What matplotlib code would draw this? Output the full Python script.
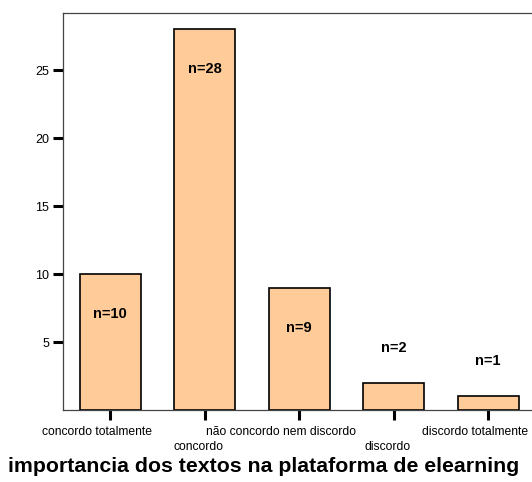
import matplotlib.pyplot as plt
import numpy as np

# data
categorias = ['concordo totalmente', 'concordo', 'não concordo nem discordo',
              'discordo', 'discordo totalmente']
contagens = [10, 28, 9, 2, 1]
yticks = [5, 10, 15, 20, 25]

plt.rcParams['font.family'] = ['Liberation Sans', 'DejaVu Sans']

W, H = 532, 482
fig = plt.figure(figsize=(W / 100, H / 100), dpi=100)
# axes box in pixels: left 63, top 13, bottom 410, pitch 94.5 px per bar
ax = fig.add_axes([63 / W, (H - 410) / H, 472.5 / W, (410 - 13) / H])

x = np.arange(len(categorias))
bars = ax.bar(x, contagens, width=0.645, color='#FFCC99',
              edgecolor='black', linewidth=1.2, zorder=2)

ax.set_xlim(-0.5, 4.5)
ax.set_ylim(0, 29.2)

# n= labels: inside tall bars, above short bars
for b, v in zip(bars, contagens):
    cx = b.get_x() + b.get_width() / 2
    off = -40 if v >= 5 else 35
    ax.annotate(f'n={v}', (cx, v), xytext=(0, off * 0.72),
                textcoords='offset points', ha='center', va='center',
                fontsize=10.5, fontweight='bold')

ax.set_yticks(yticks)
ax.set_yticklabels([str(t) for t in yticks], fontsize=9)
ax.set_xticks(x)
ax.set_xticklabels([])
# staggered category labels (spss puts them a bit left of the tick)
labs = []
for i, lab in enumerate(categorias):
    dy = -15.5 if i % 2 == 0 else -27
    t = ax.annotate(lab, (i, 0), xytext=(0, dy), textcoords='offset points',
                    ha='center', va='center', fontsize=8.7,
                    annotation_clip=False)
    labs.append(t)

fig.canvas.draw()
r = fig.canvas.get_renderer()
for t in labs:
    w = t.get_window_extent(r).width * 72 / 100
    t.xyann = (-0.125 * w, t.xyann[1])

ax.tick_params(axis='both', direction='out', length=7, width=2.2, color='black',
               pad=3)

for s in ['left', 'top', 'bottom']:
    ax.spines[s].set_color('#444444')
    ax.spines[s].set_linewidth(0.9)
ax.spines['right'].set_visible(False)

fig.text(8 / W, 1 - 466 / H, 'importancia dos textos na plataforma de elearning',
         fontsize=15.3, fontweight='bold', va='center', ha='left')

fig.savefig('out.png', dpi=100)
